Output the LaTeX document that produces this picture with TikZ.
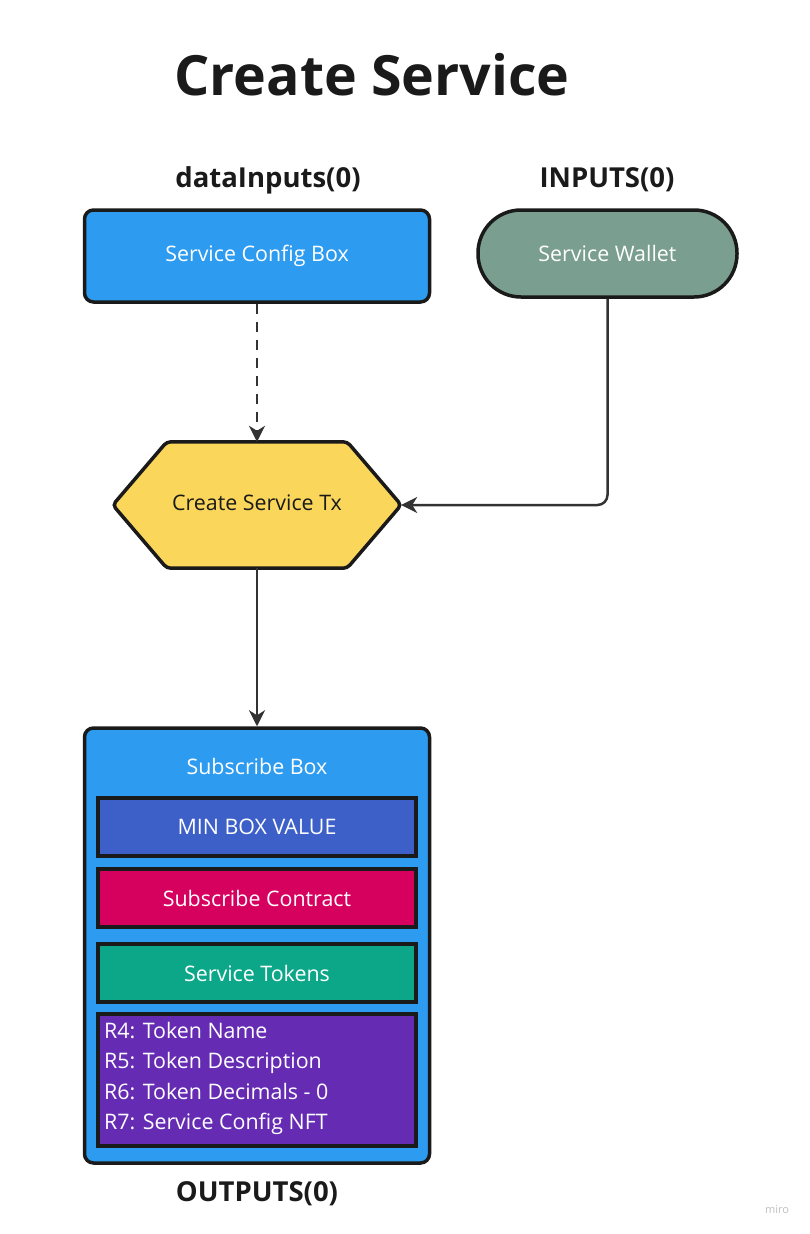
\documentclass[tikz,border=0pt]{standalone}
\usepackage{fontspec}
\setmainfont{Open Sans}
\usetikzlibrary{arrows.meta,calc}
\definecolor{boxblue}{HTML}{2D9BF0}
\definecolor{walletgreen}{HTML}{7A9E8F}
\definecolor{hexyellow}{HTML}{FAD65B}
\definecolor{minblue}{HTML}{3D5FC8}
\definecolor{contractred}{HTML}{D6005F}
\definecolor{tokgreen}{HTML}{0CA789}
\definecolor{regpurple}{HTML}{652CB3}
\definecolor{edge}{HTML}{1A1A1A}
\definecolor{conn}{HTML}{333333}
\definecolor{titlecol}{HTML}{1A1A1A}
\tikzset{
  heading/.style={font=\fontsize{27.5}{32}\selectfont\bfseries, text=titlecol},
  bigbox/.style={draw=edge, line width=3.5pt, rounded corners=9pt, minimum width=345pt},
  innerbox/.style={draw=edge, line width=3.5pt, minimum width=318pt, minimum height=58pt, text=white, font=\fontsize{21.4}{25}\selectfont},
  conline/.style={draw=conn, line width=2.5pt, -{Stealth[length=16pt,width=16pt,inset=5pt]}},
  boxtext/.style={text=white, font=\fontsize{21.4}{25}\selectfont}
}
\begin{document}
\begin{tikzpicture}[x=1pt,y=-1pt]
\useasboundingbox (0,0) rectangle (810,1234);
% title
\node[font=\fontsize{55.5}{60}\selectfont\bfseries, text=titlecol] (title) at (372,75) {Create Service};
% headings
\node[heading] (hdata) at (268,180) {dataInputs(0)};
\node[heading] (hin) at (607,180) {INPUTS(0)};
\node[heading] (hout) at (257,1194) {OUTPUTS(0)};
% service config box
\node[bigbox, fill=boxblue, minimum height=92pt, boxtext] (cfg) at (257,256) {Service Config Box};
% wallet
\node[draw=edge, line width=3.5pt, fill=walletgreen, rounded corners=43pt, minimum width=259pt, minimum height=87pt, boxtext] (wallet) at (607.5,253.5) {Service Wallet};
% hexagon
\node[minimum width=288pt, minimum height=126pt, inner sep=0pt] (hex) at (257,505) {};
\draw[draw=edge, line width=3.5pt, fill=hexyellow, rounded corners=4pt]
  (hex.west) -- ($(hex.north west)+(54,0)$) -- ($(hex.north east)+(-54,0)$) -- (hex.east)
  -- ($(hex.south east)+(-54,0)$) -- ($(hex.south west)+(54,0)$) -- cycle;
\node[font=\fontsize{21.4}{25}\selectfont, text=titlecol] (hextext) at (257,503) {Create Service Tx};
% subscribe box
\node[bigbox, fill=boxblue, minimum height=435pt] (sub) at (257,945.5) {};
\node[boxtext] (subtitle) at (257,766) {Subscribe Box};
\node[innerbox, fill=minblue] (minval) at (257,827) {MIN BOX VALUE};
\node[innerbox, fill=contractred] (contract) at (257,898) {Subscribe Contract};
\node[innerbox, fill=tokgreen] (tokens) at (257,973) {Service Tokens};
\node[innerbox, fill=regpurple, minimum height=132pt] (regs) at (257,1080) {};
\node[anchor=north west, inner sep=0pt, align=left, text=white, font=\fontsize{21.4}{30.5}\selectfont] (regtext) at (104,1022)
  {R4: Token Name\\R5: Token Description\\R6: Token Decimals - 0\\R7: Service Config NFT};
% connectors
\draw[conline, dash pattern=on 10pt off 8pt] (cfg.south) -- (hex.north);
\draw[conline, rounded corners=10pt] (wallet.south) |- (hex.east);
\draw[conline] (hex.south) -- (sub.north);
% watermark
\node[text=black!25, font=\fontsize{11}{13}\selectfont] (miro) at (777,1210) {miro};
\end{tikzpicture}
\end{document}
